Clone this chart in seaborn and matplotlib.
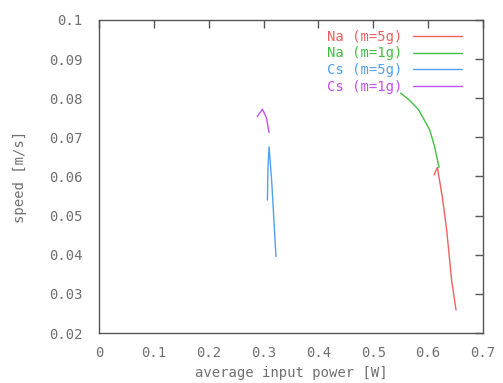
import matplotlib
matplotlib.use("Agg")
import matplotlib.pyplot as plt
import seaborn as sns
import pandas as pd

sns.set_style("white")
plt.rcParams['font.family'] = ['DejaVu Sans Mono', 'DejaVu Sans']

# Data
na5_power = [0.651, 0.643, 0.634, 0.626, 0.617, 0.611]
na5_speed = [0.0259, 0.0335, 0.0463, 0.0548, 0.0623, 0.0604]
na1_power = [0.550, 0.566, 0.583, 0.603, 0.612, 0.620]
na1_speed = [0.0813, 0.0795, 0.0770, 0.0719, 0.0676, 0.0623]
cs5_power = [0.307, 0.308, 0.310, 0.3147, 0.3226]
cs5_speed = [0.0540, 0.0620, 0.0676, 0.0591, 0.0395]
cs1_power = [0.2885, 0.298, 0.3055, 0.310]
cs1_speed = [0.0753, 0.0772, 0.0749, 0.0712]
labels = ["Na (m=5g)", "Na (m=1g)", "Cs (m=5g)", "Cs (m=1g)"]
colors = ["#f06060", "#40c040", "#50a0f0", "#c050f0"]

rows = []
for lab, xs, ys in zip(labels, [na5_power, na1_power, cs5_power, cs1_power],
                       [na5_speed, na1_speed, cs5_speed, cs1_speed]):
    for i, (x, y) in enumerate(zip(xs, ys)):
        rows.append({"series": lab, "power": x, "speed": y, "order": i})
df = pd.DataFrame(rows)

fig = plt.figure(figsize=(5.03, 3.83), dpi=100)
ax = fig.add_axes([0.197, 0.1305, 0.763, 0.8175])
sns.lineplot(data=df, x="power", y="speed", hue="series", hue_order=labels,
             palette=colors, sort=False, estimator=None, units="series",
             linewidth=1.0, ax=ax, legend=True)

ax.set_xlim(0, 0.7)
ax.set_ylim(0.02, 0.1)
ax.set_xticks([0, 0.1, 0.2, 0.3, 0.4, 0.5, 0.6, 0.7])
ax.set_xticklabels(["0", "0.1", "0.2", "0.3", "0.4", "0.5", "0.6", "0.7"])
ax.set_yticks([0.02, 0.03, 0.04, 0.05, 0.06, 0.07, 0.08, 0.09, 0.1])
ax.set_yticklabels(["0.02", "0.03", "0.04", "0.05", "0.06", "0.07", "0.08", "0.09", "0.1"])
tc = "#707070"
fs = 10
ax.tick_params(direction="in", length=6, width=1, color="#555555", labelcolor=tc,
               labelsize=fs, top=True, right=True)
ax.tick_params(axis="y", pad=12)
ax.tick_params(axis="x", pad=9)
for s in ax.spines.values():
    s.set_color("#555555")
    s.set_linewidth(1)
ax.set_xlabel("average input power [W]", color=tc, fontsize=fs, labelpad=5)
ax.set_ylabel("speed [m/s]", color=tc, fontsize=fs, labelpad=16)

leg = ax.legend(loc="upper right", frameon=False, markerfirst=False,
                fontsize=fs, handlelength=3.5, borderaxespad=0.3, labelspacing=0.2,
                bbox_to_anchor=(0.97, 1.0))
for t, c in zip(leg.get_texts(), colors):
    t.set_color(c)

fig.savefig("out.png", dpi=100)
